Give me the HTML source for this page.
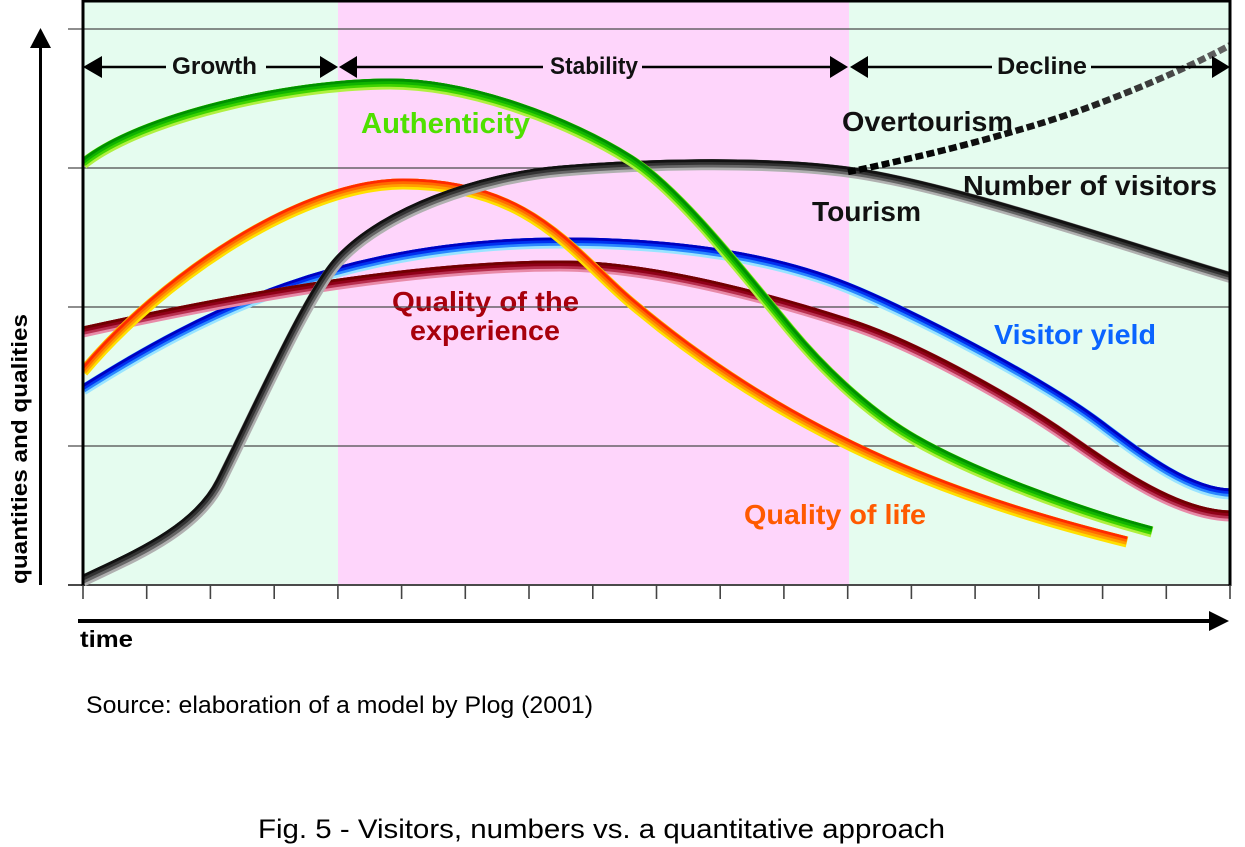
<!DOCTYPE html>
<html>
<head>
<meta charset="utf-8">
<style>
html,body{margin:0;padding:0;background:#fff;}
svg{display:block;}
text{font-family:"Liberation Sans", Arial, sans-serif;}
</style>
</head>
<body>
<svg width="1245" height="847" viewBox="0 0 1245 847" xmlns="http://www.w3.org/2000/svg">
<defs>
<path id="pg" d="M83,164 C140,118 290,84 390,84 C470,84 570,122 630,160 C680,191.5 745,276 790,330 C830,378 875,417 915,440 C975,474.5 1080,513 1152,532"/>
<path id="po" d="M83,372 C160,280 300,184 403,184 C530.5,184 573.5,254 630,302 C800,446.5 977,504.5 1127,542"/>
<path id="pb" d="M83,390 C203,314.4 343,243 563,243 C700,243 790,264.8 848,288 C908,312 1040,380 1100,425 C1140,455 1190,494 1232,494"/>
<path id="pr" d="M83,332 C233,299 410,266 560,266 C660,266 790,305 849,324 C919,346.4 1019,404 1069,439 C1119,474 1180,516 1232,516"/>
<path id="pk" d="M83,581 C128,559 195,533 220,483 C260,403 308,295 338,262 C383,212.5 480,178 563,171 C640,164.5 760,160.6 848,172 C948,185 1130,248 1232,278"/>
<linearGradient id="dg" gradientUnits="userSpaceOnUse" x1="848" y1="0" x2="1232" y2="0">
<stop offset="0" stop-color="#000"/>
<stop offset="0.6" stop-color="#1a1a1a"/>
<stop offset="1" stop-color="#666"/>
</linearGradient>
<clipPath id="plot"><rect x="83" y="0" width="1148" height="586"/></clipPath>
</defs>

<!-- backgrounds -->
<rect x="0" y="0" width="1245" height="847" fill="#fff"/>
<rect x="83" y="0" width="1148" height="585" fill="#e5fcef"/>
<rect x="338" y="0" width="511" height="585" fill="#fed5fb"/>

<!-- curve labels -->
<text x="361" y="133" font-size="29" font-weight="bold" fill="#4fe000" textLength="169" lengthAdjust="spacingAndGlyphs">Authenticity</text>
<text x="392" y="311" font-size="28" font-weight="bold" fill="#a8000c" textLength="187" lengthAdjust="spacingAndGlyphs">Quality of the</text>
<text x="410" y="340" font-size="28" font-weight="bold" fill="#a8000c" textLength="150" lengthAdjust="spacingAndGlyphs">experience</text>
<text x="994" y="344" font-size="28" font-weight="bold" fill="#0a64ff" textLength="162" lengthAdjust="spacingAndGlyphs">Visitor yield</text>
<text x="744" y="524" font-size="28" font-weight="bold" fill="#ff5a00" textLength="182" lengthAdjust="spacingAndGlyphs">Quality of life</text>
<text x="842" y="131" font-size="28" font-weight="bold" fill="#111" textLength="171" lengthAdjust="spacingAndGlyphs">Overtourism</text>
<text x="963" y="195" font-size="28" font-weight="bold" fill="#111" textLength="254" lengthAdjust="spacingAndGlyphs">Number of visitors</text>
<text x="812" y="221" font-size="28" font-weight="bold" fill="#111" textLength="109" lengthAdjust="spacingAndGlyphs">Tourism</text>

<!-- gridlines -->
<g stroke="#4a4a4a" stroke-width="1.3">
<line x1="68" y1="29" x2="1230" y2="29"/>
<line x1="68" y1="168" x2="1230" y2="168"/>
<line x1="68" y1="307" x2="1230" y2="307"/>
<line x1="68" y1="446" x2="1230" y2="446"/>
<line x1="68" y1="585" x2="1230" y2="585" stroke-width="2"/>
</g>

<!-- curves -->
<g clip-path="url(#plot)" fill="none" stroke-linecap="butt" stroke-linejoin="round">
<!-- blue -->
<use href="#pb" stroke="#9ae4ff" stroke-width="11"/>
<use href="#pb" stroke="#2a88ff" stroke-width="8.25" transform="translate(0,-1.4)"/>
<use href="#pb" stroke="#0030f0" stroke-width="5.5" transform="translate(0,-2.75)"/>
<use href="#pb" stroke="#0000c0" stroke-width="2.75" transform="translate(0,-4.1)"/>
<!-- red -->
<use href="#pr" stroke="#e88aa8" stroke-width="11"/>
<use href="#pr" stroke="#b83050" stroke-width="8.25" transform="translate(0,-1.4)"/>
<use href="#pr" stroke="#900018" stroke-width="5.5" transform="translate(0,-2.75)"/>
<use href="#pr" stroke="#700000" stroke-width="2.75" transform="translate(0,-4.1)"/>
<!-- orange -->
<use href="#po" stroke="#ffe000" stroke-width="11"/>
<use href="#po" stroke="#ffa000" stroke-width="8.25" transform="translate(0,-1.4)"/>
<use href="#po" stroke="#ff6a00" stroke-width="5.5" transform="translate(0,-2.75)"/>
<use href="#po" stroke="#ff2a00" stroke-width="2.75" transform="translate(0,-4.1)"/>
<!-- gray / number of visitors -->
<use href="#pk" stroke="#b0b0b0" stroke-width="11"/>
<use href="#pk" stroke="#666" stroke-width="8.25" transform="translate(-0.6,-1.4)"/>
<use href="#pk" stroke="#333" stroke-width="5.5" transform="translate(-1.2,-2.75)"/>
<use href="#pk" stroke="#111" stroke-width="2.75" transform="translate(-1.8,-4.1)"/>
<!-- green -->
<use href="#pg" stroke="#b0f040" stroke-width="11"/>
<use href="#pg" stroke="#40d400" stroke-width="8.25" transform="translate(0,-1.4)"/>
<use href="#pg" stroke="#10b400" stroke-width="5.5" transform="translate(0,-2.75)"/>
<use href="#pg" stroke="#009000" stroke-width="2.75" transform="translate(0,-4.1)"/>
<!-- dashed overtourism -->
<path d="M848,172 C930,155 1030,130 1100,103 C1150,84 1200,62 1234,43" stroke="url(#dg)" stroke-width="6.5" stroke-dasharray="8 3.5"/>
</g>

<!-- plot borders -->
<g stroke="#000" fill="none">
<line x1="83" y1="0" x2="83" y2="586" stroke-width="3"/>
<line x1="82" y1="1.2" x2="1231" y2="1.2" stroke-width="2.6"/>
<line x1="1230" y1="0" x2="1230" y2="586" stroke-width="3"/>
</g>

<!-- ticks -->
<g stroke="#444" stroke-width="1.6">
<line x1="83" y1="585" x2="83" y2="599"/>
<line x1="146.7" y1="585" x2="146.7" y2="599"/>
<line x1="210.4" y1="585" x2="210.4" y2="599"/>
<line x1="274.2" y1="585" x2="274.2" y2="599"/>
<line x1="337.9" y1="585" x2="337.9" y2="599"/>
<line x1="401.6" y1="585" x2="401.6" y2="599"/>
<line x1="465.3" y1="585" x2="465.3" y2="599"/>
<line x1="529" y1="585" x2="529" y2="599"/>
<line x1="592.8" y1="585" x2="592.8" y2="599"/>
<line x1="656.5" y1="585" x2="656.5" y2="599"/>
<line x1="720.2" y1="585" x2="720.2" y2="599"/>
<line x1="783.9" y1="585" x2="783.9" y2="599"/>
<line x1="847.7" y1="585" x2="847.7" y2="599"/>
<line x1="911.4" y1="585" x2="911.4" y2="599"/>
<line x1="975.1" y1="585" x2="975.1" y2="599"/>
<line x1="1038.8" y1="585" x2="1038.8" y2="599"/>
<line x1="1102.6" y1="585" x2="1102.6" y2="599"/>
<line x1="1166.3" y1="585" x2="1166.3" y2="599"/>
<line x1="1230" y1="585" x2="1230" y2="599"/>
</g>

<!-- phase arrows -->
<g stroke="#000" stroke-width="2.6">
<line x1="100" y1="67" x2="166" y2="67"/>
<line x1="266" y1="67" x2="322" y2="67"/>
<line x1="355" y1="67" x2="543" y2="67"/>
<line x1="642" y1="67" x2="832" y2="67"/>
<line x1="866" y1="67" x2="992" y2="67"/>
<line x1="1091" y1="67" x2="1213" y2="67"/>
</g>
<g fill="#000">
<polygon points="83,67 102,56 102,78"/>
<polygon points="338,67 320,56 320,78"/>
<polygon points="339,67 357,56 357,78"/>
<polygon points="848,67 830,56 830,78"/>
<polygon points="850,67 868,56 868,78"/>
<polygon points="1230,67 1212,56 1212,78"/>
</g>
<text x="172" y="74" font-size="24" font-weight="bold" fill="#111" textLength="85" lengthAdjust="spacingAndGlyphs">Growth</text>
<text x="550" y="74" font-size="24" font-weight="bold" fill="#111" textLength="88" lengthAdjust="spacingAndGlyphs">Stability</text>
<text x="997" y="74" font-size="24" font-weight="bold" fill="#111" textLength="90" lengthAdjust="spacingAndGlyphs">Decline</text>

<!-- Y axis arrow -->
<line x1="40.5" y1="585" x2="40.5" y2="46" stroke="#000" stroke-width="3"/>
<polygon points="40.5,28 30,48 51,48" fill="#000"/>
<text transform="translate(27,584) rotate(-90)" x="0" y="0" font-size="22" font-weight="bold" fill="#000" textLength="270" lengthAdjust="spacingAndGlyphs">quantities and qualities</text>

<!-- time arrow -->
<line x1="78" y1="621" x2="1212" y2="621" stroke="#000" stroke-width="4"/>
<polygon points="1209,611 1229,621 1209,631" fill="#000"/>
<text x="80" y="647" font-size="23" font-weight="bold" fill="#000" textLength="53" lengthAdjust="spacingAndGlyphs">time</text>

<!-- captions -->
<text x="86" y="713" font-size="24" fill="#000" textLength="507" lengthAdjust="spacingAndGlyphs">Source: elaboration of a model by Plog (2001)</text>
<text x="258" y="838" font-size="27" fill="#000" textLength="687" lengthAdjust="spacingAndGlyphs">Fig. 5 - Visitors, numbers vs. a quantitative approach</text>
</svg>
</body>
</html>
